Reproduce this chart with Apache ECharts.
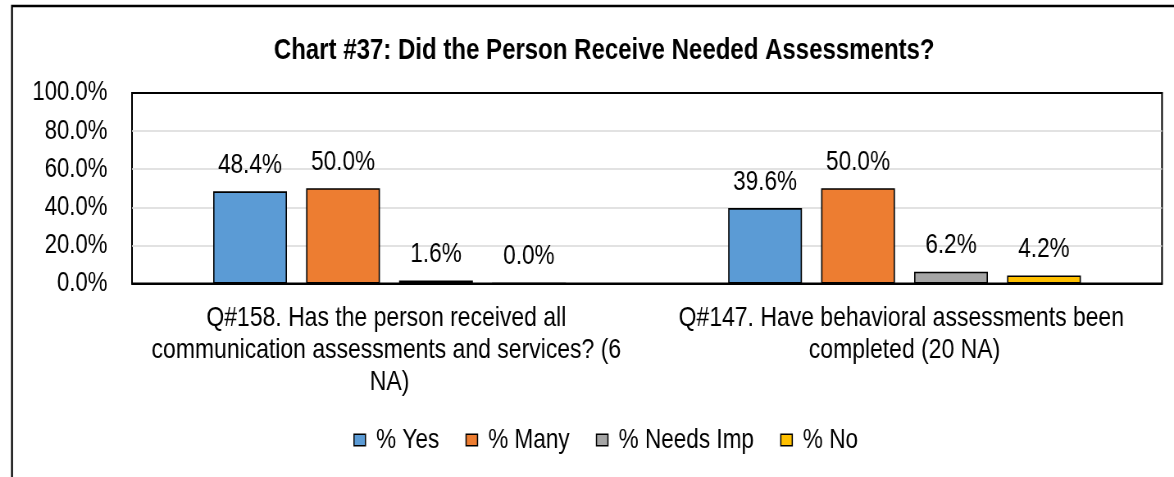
<!DOCTYPE html>
<html>
<head>
<meta charset="utf-8">
<script src="https://cdn.jsdelivr.net/npm/echarts@6/dist/echarts.min.js"></script>
<style>
  html, body { margin: 0; padding: 0; background: #ffffff; overflow: hidden; }
  /* The chart is laid out on a wider canvas and narrowed horizontally,
     which gives the condensed look of a narrow sans face. */
  #wrap { width: 1174px; height: 477px; overflow: hidden; }
  #chart { width: 1432px; height: 477px; transform: scaleX(0.81983); transform-origin: 0 0; }
</style>
</head>
<body>
<div id="wrap"><div id="chart"></div></div>
<script>
// Questions on the x axis
const categories = [
  'Q#158. Has the person received all communication assessments and services? (6 NA)',
  'Q#147. Have behavioral assessments been completed (20 NA)'
];

// Percent of responses per answer, one array per series
const seriesNames = ['% Yes', '% Many', '% Needs Imp', '% No'];
const yesValues = [48.4, 39.6];
const manyValues = [50.0, 50.0];
const needsImpValues = [1.6, 6.2];
const noValues = [0.0, 4.2];

// Value-axis ticks
const yTicks = [0, 20, 40, 60, 80, 100];

const colors = ['#5B9BD5', '#ED7D31', '#A5A5A5', '#FFC000'];
const FONT = '"Liberation Sans", Arial, sans-serif';

const chart = echarts.init(document.getElementById('chart'), null, { renderer: 'canvas' });

function barSeries(name, values, color) {
  return {
    name: name,
    type: 'bar',
    xAxisIndex: 0,
    data: values,
    barWidth: 90,
    barGap: '26%',
    itemStyle: { color: color, borderColor: '#000000', borderWidth: 1.6 },
    label: {
      show: true,
      position: 'top',
      distance: 12,
      color: '#000000',
      fontFamily: FONT,
      fontSize: 27.5,
      formatter: (p) => p.value.toFixed(1) + '%'
    }
  };
}

chart.setOption({
  backgroundColor: '#ffffff',
  animation: false,
  title: {
    text: 'Chart #37: Did the Person Receive Needed Assessments?',
    left: 329,
    top: 31,
    textStyle: { fontFamily: FONT, fontWeight: 'bold', fontSize: 29.3, color: '#000000' }
  },
  graphic: [{
    type: 'rect',
    shape: { x: 14.6, y: 6, width: 1500, height: 520 },
    style: { fill: 'none', stroke: '#000000', lineWidth: 2.3 },
    silent: true,
    z: 100
  }],
  legend: {
    data: seriesNames,
    left: 426,
    top: 421,
    itemWidth: 14,
    itemHeight: 11.5,
    itemGap: 32,
    icon: 'rect',
    itemStyle: { borderColor: '#000000', borderWidth: 1.5 },
    textStyle: { fontFamily: FONT, fontSize: 27.5, color: '#000000', padding: [0, 0, 0, 8] }
  },
  grid: {
    left: 161,
    right: 14.6,
    top: 93,
    bottom: 193.5,
    show: true,
    borderColor: '#000000',
    borderWidth: 2,
    backgroundColor: 'transparent'
  },
  xAxis: [{
    type: 'category',
    data: categories,
    axisLine: { show: true, lineStyle: { color: '#000000', width: 2 } },
    axisTick: { show: false },
    axisLabel: {
      interval: 0,
      margin: 19,
      width: 610,
      overflow: 'break',
      lineHeight: 32,
      fontFamily: FONT,
      fontSize: 28,
      color: '#000000',
      align: 'center'
    }
  }, {
    // top frame edge of the plot area
    type: 'category',
    position: 'top',
    data: categories,
    axisLine: { show: true, lineStyle: { color: '#000000', width: 2 } },
    axisTick: { show: false },
    axisLabel: { show: false }
  }],
  yAxis: {
    type: 'value',
    min: yTicks[0],
    max: yTicks[yTicks.length - 1],
    interval: yTicks[1] - yTicks[0],
    axisLine: { show: false },
    axisTick: { show: false },
    splitLine: { show: true, lineStyle: { color: '#D9D9D9', width: 1.5 } },
    axisLabel: {
      margin: 30,
      fontFamily: FONT,
      fontSize: 27,
      color: '#000000',
      formatter: (v) => v.toFixed(1) + '%'
    }
  },
  series: [
    barSeries(seriesNames[0], yesValues, colors[0]),
    barSeries(seriesNames[1], manyValues, colors[1]),
    barSeries(seriesNames[2], needsImpValues, colors[2]),
    barSeries(seriesNames[3], noValues, colors[3])
  ]
});
</script>
</body>
</html>
